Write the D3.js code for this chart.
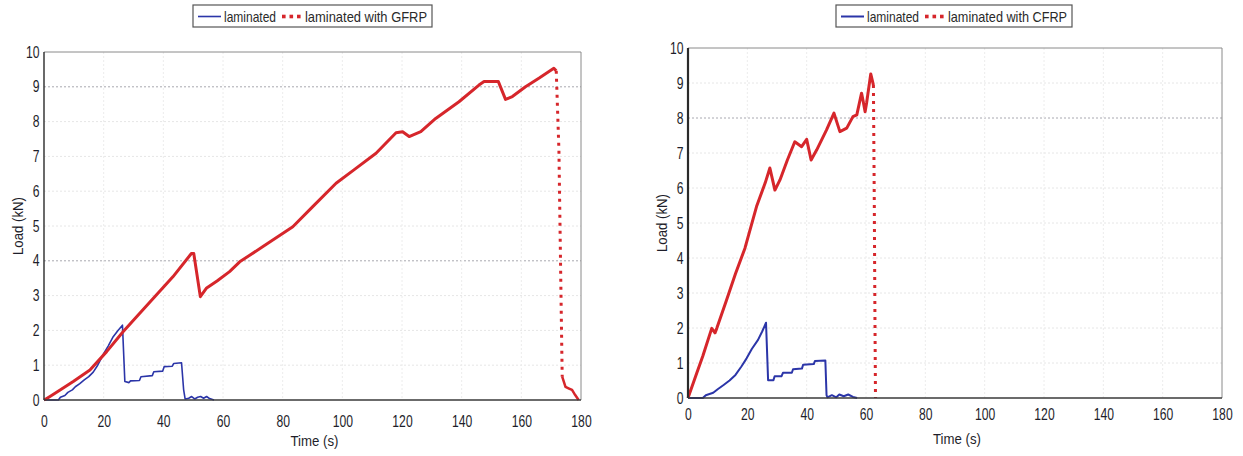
<!DOCTYPE html>
<html>
<head>
<meta charset="utf-8">
<script src="https://cdn.jsdelivr.net/npm/d3@7"></script>
<style>
  html, body { margin: 0; padding: 0; background: #fff; }
  svg { display: block; }
  text { font-family: "Liberation Sans", Arial, sans-serif; }
</style>
</head>
<body>
<svg id="chart" width="1243" height="456"></svg>
<script>
// ---------- DATA ----------
const xTicks = [0, 20, 40, 60, 80, 100, 120, 140, 160, 180];
const yTicks = [0, 1, 2, 3, 4, 5, 6, 7, 8, 9, 10];
const seriesNames = ["laminated", "laminated with GFRP", "laminated with CFRP"];

// Panel A: laminated (blue)
const aBlueTime = [0, 4.8, 5.5, 7, 8, 9.5, 10.5, 12, 13.5, 15, 16.5, 18, 19.8, 21.5, 23.2, 24.8, 26.3,
  27.1, 28.5, 29, 32, 32.5, 36.3, 36.8, 39.8, 40.3, 43, 43.5, 46.1, 46.8, 47.3,
  48.5, 49.5, 50.5, 51.5, 52.5, 53.5, 54.5, 55.5, 57];
const aBlueLoad = [0, 0, 0.08, 0.13, 0.22, 0.29, 0.38, 0.47, 0.58, 0.67, 0.8, 1.0, 1.3, 1.55, 1.82, 2.0, 2.15,
  0.53, 0.5, 0.55, 0.56, 0.67, 0.7, 0.81, 0.83, 0.96, 0.97, 1.05, 1.07, 0.3, 0.03,
  0.05, 0.1, 0.03, 0.08, 0.1, 0.05, 0.1, 0.04, 0];

// Panel A: laminated with GFRP (red)
const aRedTime = [0, 0.5, 2, 5.4, 9.8, 15.4, 21, 26.5, 32.1, 37.5, 43.2, 49.4, 50.2, 52.4, 54.4, 58, 62.2, 65.6,
  73.4, 83.4, 90, 97.9, 104, 111.3, 118, 120.2, 122.4, 126.3, 131.3, 139.1, 145.8, 147.5, 152.3, 154.7,
  157, 161.4, 166, 170.9, 171.7];
const aRedLoad = [0, 0.02, 0.1, 0.29, 0.53, 0.86, 1.39, 1.96, 2.49, 3.0, 3.54, 4.21, 4.21, 2.97, 3.21, 3.42, 3.69, 3.97,
  4.41, 4.98, 5.55, 6.23, 6.62, 7.09, 7.68, 7.71, 7.57, 7.71, 8.09, 8.57, 9.05, 9.15, 9.15, 8.64,
  8.72, 9.0, 9.25, 9.53, 9.46];
// failure drop (dotted) and residual tail
const aRedDropTime = [171.7, 172.6, 173.0, 173.4, 173.7];
const aRedDropLoad = [9.46, 7.18, 4.79, 2.39, 0.67];
const aRedTailTime = [173.7, 174.8, 176, 177, 178, 179.2];
const aRedTailLoad = [0.67, 0.38, 0.33, 0.29, 0.15, 0];

// Panel B: laminated (blue)
const bBlueTime = [0, 5, 6, 8.5, 10, 12, 14, 16, 18, 19.8, 21.5, 23.6, 25, 26.3,
  27, 28.8, 29.2, 31.5, 32, 35, 35.4, 38.4, 38.8, 42.4, 42.8, 46.3, 46.7, 47,
  48.5, 50, 51, 52.5, 54, 55.6, 57];
const bBlueLoad = [0, 0, 0.08, 0.15, 0.25, 0.37, 0.5, 0.66, 0.9, 1.14, 1.4, 1.66, 1.9, 2.15,
  0.51, 0.51, 0.62, 0.62, 0.72, 0.72, 0.82, 0.84, 0.95, 0.97, 1.06, 1.07, 0.08, 0.02,
  0.08, 0.02, 0.1, 0.05, 0.1, 0.03, 0];

// Panel B: laminated with CFRP (red)
const bRedTime = [0, 2.9, 5, 8, 9.1, 9.7, 13, 16, 19.2, 23.1, 26, 27.6, 29.3, 31, 33.5, 36, 38.3, 40, 41.5,
  43.4, 46.7, 49.2, 51.2, 53.5, 55.6, 56.9, 58.5, 59, 59.7, 60.2, 61.6, 62.5];
const bRedLoad = [0, 0.7, 1.2, 1.99, 1.86, 1.99, 2.8, 3.55, 4.28, 5.47, 6.14, 6.57, 5.94, 6.23, 6.8, 7.32, 7.18, 7.39, 6.8,
  7.09, 7.66, 8.14, 7.61, 7.71, 8.04, 8.09, 8.71, 8.5, 8.18, 8.43, 9.26, 8.94];
const bRedDropTime = [62.5, 62.8, 63.0, 63.2];
const bRedDropLoad = [8.94, 5.5, 2.5, 0];

// ---------- HELPERS ----------
const zip = (t, l) => t.map((v, i) => [v, l[i]]);

const BLUE = "#2b35a8";
const RED = "#d6262b";
const TEXT = "#1e1e2a";
const CONDENSE = 0.76;

const svg = d3.select("#chart");

const panels = [
  {
    box: { left: 44, right: 581, top: 52, bottom: 400 },
    blue: zip(aBlueTime, aBlueLoad),
    red: zip(aRedTime, aRedLoad),
    drop: zip(aRedDropTime, aRedDropLoad),
    tail: zip(aRedTailTime, aRedTailLoad),
    name: seriesNames[1],
    legend: { x: 193, y: 5, w: 239, h: 22 },
    strongGrid: [9, 4],
    blueWidth: 1.6, axisWidth: 1.4,
    xPad: 16, xLabelY: 446, yLabelX: 18
  },
  {
    box: { left: 688, right: 1222, top: 48, bottom: 398 },
    blue: zip(bBlueTime, bBlueLoad),
    red: zip(bRedTime, bRedLoad),
    drop: zip(bRedDropTime, bRedDropLoad),
    tail: null,
    name: seriesNames[2],
    legend: { x: 836, y: 5, w: 236, h: 22 },
    strongGrid: [8],
    blueWidth: 2, axisWidth: 2.2,
    xPad: 11, xLabelY: 444, yLabelX: 662
  }
];

panels.forEach(p => {
  const b = p.box;
  const x = d3.scaleLinear().domain([0, 180]).range([b.left, b.right]);
  const y = d3.scaleLinear().domain([0, 10]).range([b.bottom, b.top]);
  const g = svg.append("g");

  // gridlines
  g.append("g").selectAll("line").data(yTicks.filter(v => v > 0 && v < 10)).join("line")
    .attr("x1", b.left).attr("x2", b.right)
    .attr("y1", d => y(d)).attr("y2", d => y(d))
    .attr("stroke", d => p.strongGrid.includes(d) ? "#a8a8b0" : "#e6e6e6")
    .attr("stroke-width", 1)
    .attr("stroke-dasharray", "2,2");
  g.append("g").selectAll("line").data(xTicks.filter(v => v > 0 && v < 180)).join("line")
    .attr("y1", b.top).attr("y2", b.bottom)
    .attr("x1", d => x(d)).attr("x2", d => x(d))
    .attr("stroke", "#ececec")
    .attr("stroke-width", 1)
    .attr("stroke-dasharray", "2,2");

  // frame (top/right light)
  g.append("line").attr("x1", b.left).attr("x2", b.right).attr("y1", b.top).attr("y2", b.top)
    .attr("stroke", "#8a8a8a").attr("stroke-width", 1);
  g.append("line").attr("x1", b.right).attr("x2", b.right).attr("y1", b.top).attr("y2", b.bottom)
    .attr("stroke", "#8a8a8a").attr("stroke-width", 1);

  // axes
  const yAxis = d3.axisLeft(y).tickValues(yTicks).tickSize(0).tickPadding(6);
  const xAxis = d3.axisBottom(x).tickValues(xTicks).tickSize(0).tickPadding(p.xPad);
  const ya = g.append("g").attr("transform", `translate(${b.left},0)`).call(yAxis);
  const xa = g.append("g").attr("transform", `translate(0,${b.bottom})`).call(xAxis);
  [ya, xa].forEach(a => {
    a.select(".domain").remove();
    a.selectAll("text").attr("fill", TEXT).style("font-size", "16px")
      .style("font-family", '"Liberation Sans", Arial, sans-serif')
      .attr("transform", `scale(${CONDENSE},1)`);
  });

  // series
  const line = d3.line().x(d => x(d[0])).y(d => y(d[1]));
  g.append("path").datum(p.blue).attr("d", line)
    .attr("fill", "none").attr("stroke", BLUE).attr("stroke-width", p.blueWidth)
    .attr("stroke-linejoin", "round");
  g.append("path").datum(p.red).attr("d", line)
    .attr("fill", "none").attr("stroke", RED).attr("stroke-width", 3)
    .attr("stroke-linejoin", "round");
  g.append("path").datum(p.drop).attr("d", line)
    .attr("fill", "none").attr("stroke", RED).attr("stroke-width", 3)
    .attr("stroke-dasharray", "3,5");
  if (p.tail) {
    g.append("path").datum(p.tail).attr("d", line)
      .attr("fill", "none").attr("stroke", RED).attr("stroke-width", 2.5)
      .attr("stroke-linejoin", "round");
  }

  // axis lines (left/bottom dark)
  g.append("line").attr("x1", b.left).attr("x2", b.left).attr("y1", b.top).attr("y2", b.bottom)
    .attr("stroke", "#2a2a2a").attr("stroke-width", p.axisWidth);
  g.append("line").attr("x1", b.left).attr("x2", b.right).attr("y1", b.bottom).attr("y2", b.bottom)
    .attr("stroke", "#3a3a3a").attr("stroke-width", 1.4);

  // axis titles
  g.append("text").attr("x", (b.left + b.right) / 2 + 2).attr("y", p.xLabelY)
    .attr("text-anchor", "middle").attr("fill", TEXT).style("font-size", "15px")
    .attr("textLength", 48).attr("lengthAdjust", "spacingAndGlyphs").text("Time (s)");
  g.append("text")
    .attr("transform", `translate(${p.yLabelX},${(b.top + b.bottom) / 2}) rotate(-90)`)
    .attr("text-anchor", "middle").attr("dy", "0.35em").attr("fill", TEXT)
    .style("font-size", "15px")
    .attr("textLength", 58).attr("lengthAdjust", "spacingAndGlyphs").text("Load (kN)");

  // legend
  const L = p.legend;
  const lg = g.append("g").attr("transform", `translate(${L.x},${L.y})`);
  lg.append("rect").attr("width", L.w).attr("height", L.h)
    .attr("fill", "#fff").attr("stroke", "#555").attr("stroke-width", 1.2);
  const cy = L.h / 2 + 0.5;
  lg.append("line").attr("x1", 5).attr("x2", 28).attr("y1", cy).attr("y2", cy)
    .attr("stroke", BLUE).attr("stroke-width", p.blueWidth);
  lg.append("text").attr("x", 31).attr("y", cy).attr("dy", "0.36em")
    .attr("fill", "#2a2a2a").style("font-size", "15px")
    .attr("textLength", 52).attr("lengthAdjust", "spacingAndGlyphs").text(seriesNames[0]);
  [0, 1, 2].forEach(i => {
    lg.append("rect").attr("x", 89 + i * 7.5).attr("y", cy - 1.8).attr("width", 3.6).attr("height", 3.6)
      .attr("fill", RED);
  });
  lg.append("text").attr("x", 112).attr("y", cy).attr("dy", "0.36em")
    .attr("fill", "#2a2a2a").style("font-size", "15px")
    .attr("textLength", L.w - 117).attr("lengthAdjust", "spacingAndGlyphs").text(p.name);
});
</script>
</body>
</html>
